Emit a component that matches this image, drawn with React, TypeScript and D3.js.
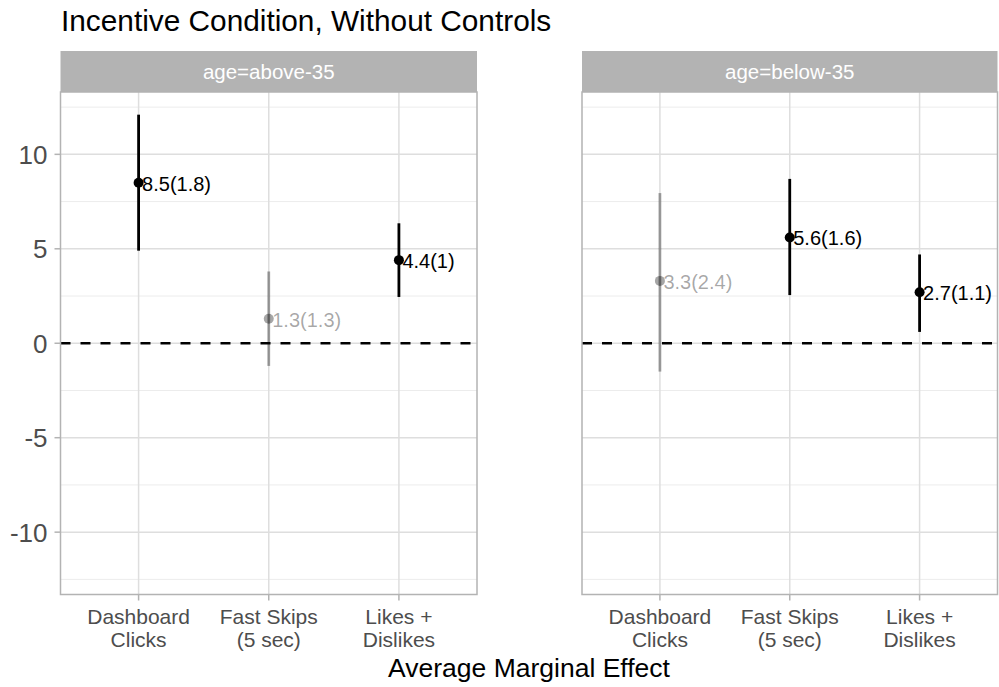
import React, { useEffect, useRef } from "react";
import * as d3 from "d3";

// facets, categories and estimates
const panels = ["age=above-35", "age=below-35"];
const categories = [["Dashboard", "Clicks"], ["Fast Skips", "(5 sec)"], ["Likes +", "Dislikes"]];
const catKeys = ["Dashboard Clicks", "Fast Skips (5 sec)", "Likes + Dislikes"];

const estAbove = [8.5, 1.3, 4.4];
const seAbove = [1.8, 1.3, 1];
const loAbove = [4.9, -1.2, 2.45];
const hiAbove = [12.1, 3.8, 6.35];

const estBelow = [3.3, 5.6, 2.7];
const seBelow = [2.4, 1.6, 1.1];
const loBelow = [-1.5, 2.55, 0.6];
const hiBelow = [7.95, 8.7, 4.7];

const yTicks = [-10, -5, 0, 5, 10];
const yMinor = [-12.5, -7.5, -2.5, 2.5, 7.5, 12.5];

const FONT = "'Liberation Sans', Arial, Helvetica, sans-serif";

export default function App() {
  const ref = useRef<SVGSVGElement>(null);

  useEffect(() => {
    const W = 999, H = 687;
    const svg = d3.select(ref.current);
    svg.selectAll("*").remove();
    svg.attr("width", W).attr("height", H).style("font-family", FONT);

    const stripTop = 51, top = 92, bottom = 594.5;
    const panelX = [[60.5, 477], [582, 997.5]];

    const y = d3.scaleLinear().domain([-13.3, 13.3]).range([bottom, top]);

    // title
    svg.append("text")
      .attr("x", 61).attr("y", 31)
      .style("font-size", "29.8px")
      .text("Incentive Condition, Without Controls");

    const data = [
      { est: estAbove, se: seAbove, lo: loAbove, hi: hiAbove },
      { est: estBelow, se: seBelow, lo: loBelow, hi: hiBelow },
    ];

    panels.forEach((name, p) => {
      const [x0, x1] = panelX[p];
      const x = d3.scalePoint<string>().domain(catKeys).range([x0, x1]).padding(0.6);
      const g = svg.append("g");

      // grid
      g.selectAll(".minor").data(yMinor).enter().append("line")
        .attr("x1", x0).attr("x2", x1)
        .attr("y1", d => y(d)).attr("y2", d => y(d))
        .attr("stroke", "#ececec").attr("stroke-width", 1);
      g.selectAll(".major").data(yTicks).enter().append("line")
        .attr("x1", x0).attr("x2", x1)
        .attr("y1", d => y(d)).attr("y2", d => y(d))
        .attr("stroke", "#dedede").attr("stroke-width", 1.5);
      g.selectAll(".vmajor").data(catKeys).enter().append("line")
        .attr("x1", d => x(d)!).attr("x2", d => x(d)!)
        .attr("y1", top).attr("y2", bottom)
        .attr("stroke", "#dedede").attr("stroke-width", 1.5);

      // zero line
      g.append("line")
        .attr("x1", x0).attr("x2", x1)
        .attr("y1", y(0)).attr("y2", y(0))
        .attr("stroke", "#000").attr("stroke-width", 2.5)
        .attr("stroke-dasharray", "10,10");

      // strip
      g.append("rect")
        .attr("x", x0).attr("y", stripTop)
        .attr("width", x1 - x0).attr("height", top - stripTop)
        .attr("fill", "#b3b3b3");
      g.append("text")
        .attr("x", (x0 + x1) / 2).attr("y", 78.5)
        .attr("text-anchor", "middle")
        .attr("fill", "#fff")
        .style("font-size", "20.5px")
        .text(name);

      // border
      g.append("rect")
        .attr("x", x0).attr("y", top)
        .attr("width", x1 - x0).attr("height", bottom - top)
        .attr("fill", "none").attr("stroke", "#b3b3b3").attr("stroke-width", 1.5);

      // x ticks & labels
      catKeys.forEach((k, i) => {
        g.append("line")
          .attr("x1", x(k)!).attr("x2", x(k)!)
          .attr("y1", bottom).attr("y2", bottom + 6)
          .attr("stroke", "#b3b3b3").attr("stroke-width", 1.5);
        const t = g.append("text")
          .attr("text-anchor", "middle")
          .attr("fill", "#4d4d4d")
          .style("font-size", "21px");
        categories[i].forEach((line, j) => {
          t.append("tspan").attr("x", x(k)!).attr("y", 624 + j * 22.7).text(line);
        });
      });

      // y axis (left panel only)
      if (p === 0) {
        yTicks.forEach(v => {
          g.append("line")
            .attr("x1", x0 - 6).attr("x2", x0)
            .attr("y1", y(v)).attr("y2", y(v))
            .attr("stroke", "#b3b3b3").attr("stroke-width", 1.5);
          g.append("text")
            .attr("x", x0 - 13).attr("y", y(v))
            .attr("dy", "0.36em")
            .attr("text-anchor", "end")
            .attr("fill", "#4d4d4d")
            .style("font-size", "26px")
            .text(String(v));
        });
      }

      // estimates
      const d = data[p];
      catKeys.forEach((k, i) => {
        const sig = d.lo[i] > 0 || d.hi[i] < 0;
        const op = sig ? 1 : 0.35;
        const cx = x(k)!;
        g.append("line")
          .attr("x1", cx).attr("x2", cx)
          .attr("y1", y(d.lo[i])).attr("y2", y(d.hi[i]))
          .attr("stroke", "#000").attr("stroke-width", 2.8)
          .attr("stroke-opacity", op);
        g.append("circle")
          .attr("cx", cx).attr("cy", y(d.est[i])).attr("r", 5)
          .attr("fill", "#000").attr("fill-opacity", op);
        g.append("text")
          .attr("x", cx + 3.5).attr("y", y(d.est[i]))
          .attr("dy", "0.4em")
          .attr("fill", "#000").attr("fill-opacity", op)
          .style("font-size", "20px")
          .text(`${d.est[i]}(${d.se[i]})`);
      });
    });

    // x-axis title
    svg.append("text")
      .attr("x", (panelX[0][0] + panelX[1][1]) / 2).attr("y", 677)
      .attr("text-anchor", "middle")
      .style("font-size", "26.5px")
      .text("Average Marginal Effect");
  }, []);

  return (
    <div style={{ position: "absolute", left: 0, top: 0 }}>
      <svg ref={ref} style={{ display: "block" }}></svg>
    </div>
  );
}
